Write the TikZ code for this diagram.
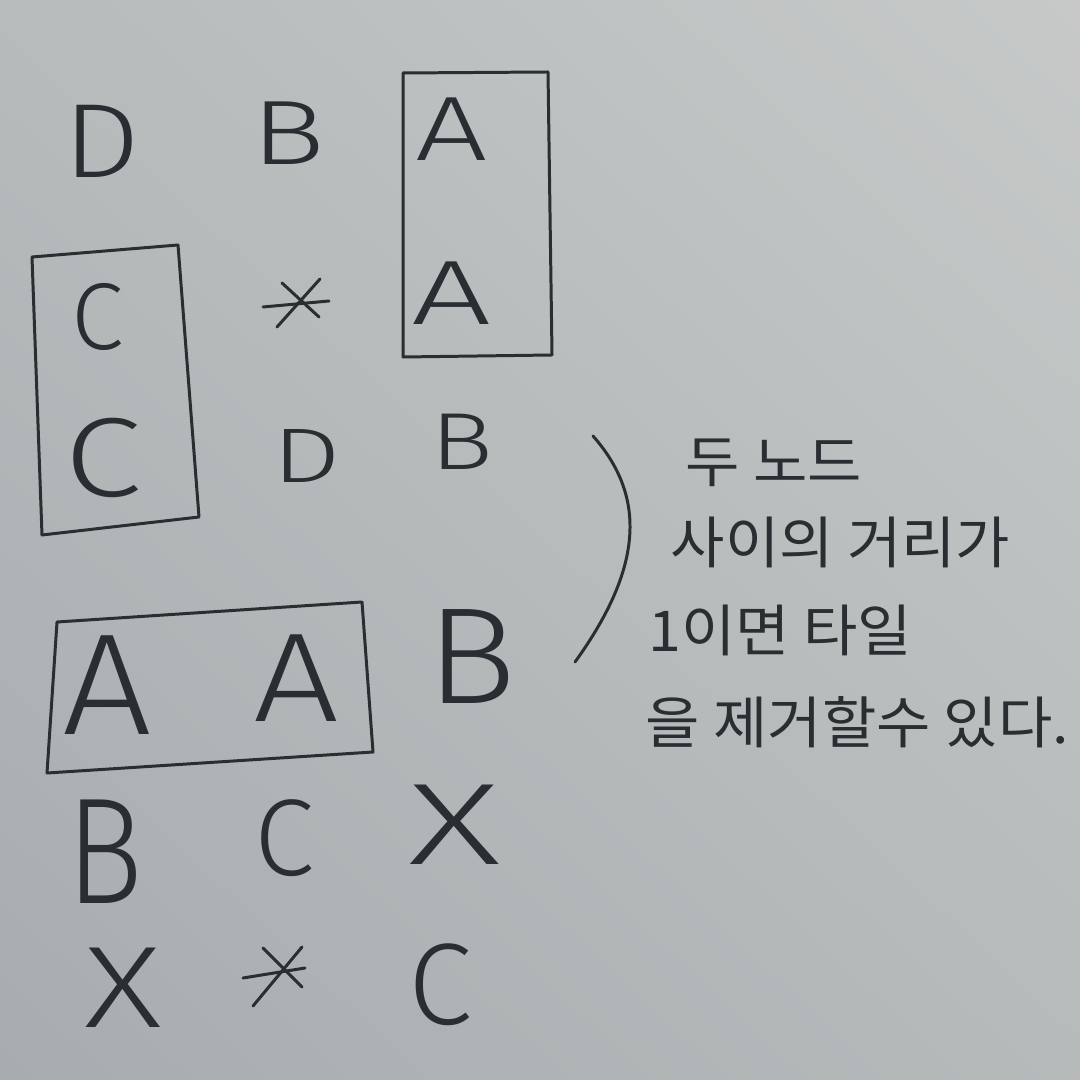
\documentclass[tikz,border=0pt]{standalone}
\usepackage{fontspec}
\usetikzlibrary{shadings}
\newfontfamily\lite{Fira Sans Light}
\newfontfamily\kr{Noto Sans CJK KR}
\definecolor{ink}{HTML}{2A2D31}
\definecolor{bgA}{HTML}{B7BBBC}
\definecolor{bgB}{HTML}{C6C9C8}
\definecolor{bgC}{HTML}{A8ACAF}
\definecolor{bgD}{HTML}{B6BABB}
\tikzset{
  glyph/.style={inner sep=0pt, text=ink},
  pen/.style={draw=ink, line width=0.85pt, line cap=round, line join=round},
  note/.style={inner sep=0pt, anchor=west, text=ink, xscale=1.05, font=\kr\fontsize{16}{18}\selectfont},
}
\newcommand{\fs}[1]{\lite\fontsize{#1}{#1}\selectfont}
\begin{document}
\begin{tikzpicture}[x=0.01cm, y=-0.01cm]
\useasboundingbox (0,0) rectangle (1080,1080);
\shade[upper left=bgA, upper right=bgB, lower left=bgC, lower right=bgD] (0,0) rectangle (1080,1080);

% row 1
\node[glyph, font=\fs{30}, xscale=1.15] (r1a) at (102,141) {D};
\node[glyph, font=\fs{26}, xscale=1.35] (r1b) at (288,133) {B};
\node[glyph, font=\fs{26}, xscale=1.4] (r1c) at (452,129) {A};
% row 2
\node[glyph, font=\fs{27}] (r2a) at (98,317) {C};
\coordinate (r2b) at (295,302);
\node[glyph, font=\fs{26}, xscale=1.55] (r2c) at (452,293) {A};
% row 3
\node[glyph, font=\fs{32}, xscale=1.25] (r3a) at (103,458) {C};
\node[glyph, font=\fs{22}, xscale=1.4] (r3b) at (307,456) {D};
\node[glyph, font=\fs{23}, xscale=1.3] (r3c) at (462,442) {B};
% row 4
\node[glyph, font=\fs{41}, xscale=1.1] (r4a) at (107,685) {A};
\node[glyph, font=\fs{36}, xscale=1.2] (r4b) at (296,678) {A};
\node[glyph, font=\fs{39}, xscale=1.1] (r4c) at (472,657) {B};
% row 5
\node[glyph, font=\fs{43}, xscale=0.85] (r5a) at (105,852) {B};
\node[glyph, font=\fs{31}] (r5b) at (284,838) {C};
\node[glyph, font=\fs{33}, xscale=1.55] (r5c) at (455,825) {X};
% row 6
\node[glyph, font=\fs{33}, xscale=1.3] (r6a) at (123,988) {X};
\coordinate (r6b) at (280,978);
\node[glyph, font=\fs{33}] (r6c) at (440,985) {C};

% asterisks
\draw[pen] (263,307) -- (329,301);
\draw[pen] (282,283) -- (319,317);
\draw[pen] (320,279) -- (277,327);
\draw[pen] (243,978) -- (305,968);
\draw[pen] (263,948) -- (302,987);
\draw[pen] (302,947) -- (253,1006);

% boxes
\draw[pen] (403,73) -- (548,72) -- (552,355) -- (403,357) -- cycle;
\draw[pen] (32,257) -- (178,245) -- (199,517) -- (42,535) -- cycle;
\draw[pen] (57,622) -- (362,602) -- (373,752) -- (47,773) -- cycle;

% bracket
\draw[pen] (593,436) .. controls (645,495) and (645,565) .. (575,662);

% note
\node[note] (n1) at (685,463) {두 노드};
\node[note] (n2) at (670,542) {사이의 거리가};
\node[note] (n3) at (648,630) {1이면 타일};
\node[note] (n4) at (645,722) {을 제거할수 있다.};
\end{tikzpicture}
\end{document}
